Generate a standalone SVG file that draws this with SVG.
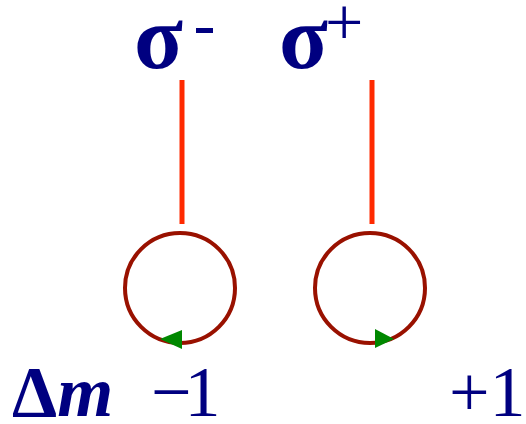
<svg xmlns="http://www.w3.org/2000/svg" width="526" height="424" viewBox="0 0 526 424">
<style>
.t{font-family:"Liberation Serif","Times New Roman",serif;fill:#000080}
.line{stroke:#ff2a00;stroke-width:5}
.loop{fill:none;stroke:#991100;stroke-width:4}
.ah{fill:#008800}
</style>
<rect width="526" height="424" fill="#fff"/>
<g id="sigma-minus">
<text class="t" x="134" y="68" font-size="90" font-weight="bold">σ</text>
<rect x="196" y="28" width="17" height="5" fill="#000080"/>
</g>
<g id="sigma-plus">
<text class="t" x="279" y="68" font-size="90" font-weight="bold">σ</text>
<text class="t" x="325" y="45" font-size="68">+</text>
</g>
<g id="connectors">
<line class="line" x1="182" y1="80" x2="182" y2="224"/>
<line class="line" x1="372" y1="80" x2="372" y2="224"/>
</g>
<g id="loop-left">
<circle class="loop" cx="180" cy="288" r="55"/>
<polygon class="ah" points="160,339 182,330 182,349"/>
</g>
<g id="loop-right">
<circle class="loop" cx="370" cy="288" r="55"/>
<polygon class="ah" points="394,339 375,329 375,348"/>
</g>
<g id="labels">
<text class="t" x="12" y="416" font-size="72"><tspan font-weight="bold">Δ</tspan><tspan font-weight="bold" font-style="italic">m</tspan></text>
<text class="t" x="151" y="416" font-size="72" letter-spacing="-7">−1</text>
<text class="t" x="449" y="416" font-size="72">+1</text>
</g>
</svg>
